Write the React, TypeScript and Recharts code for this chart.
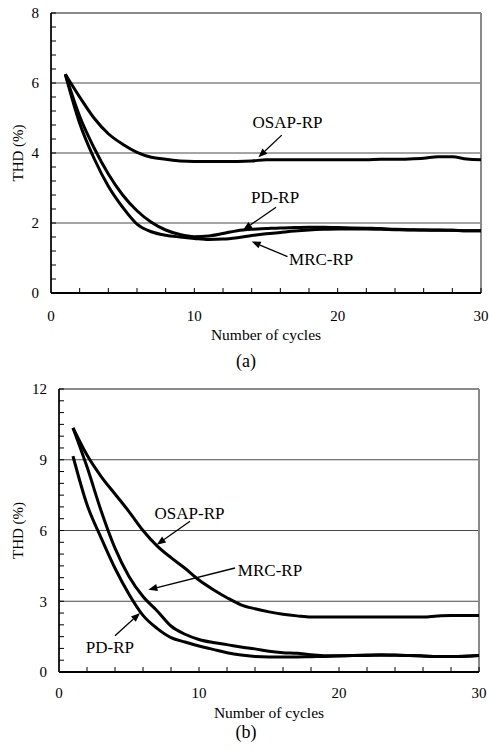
import React from 'react';
import { LineChart, Line, XAxis, YAxis, ReferenceLine, ReferenceDot } from 'recharts';

// Cycle index shared by every series
const cycles = [1, 2, 3, 4, 5, 6, 7, 8, 9, 10, 11, 12, 13, 14, 15, 16, 17, 18, 19, 20, 21, 22, 23, 24, 25, 26, 27, 28, 29, 30];

// (a) THD (%) per cycle
const osapA = [6.25, 5.6, 5.0, 4.55, 4.25, 4.02, 3.88, 3.82, 3.77, 3.76, 3.76, 3.76, 3.76, 3.77, 3.81, 3.81, 3.81, 3.81, 3.81, 3.81, 3.81, 3.81, 3.82, 3.82, 3.83, 3.85, 3.89, 3.89, 3.83, 3.81];
const pdA = [6.25, 5.05, 4.15, 3.4, 2.8, 2.35, 2.02, 1.8, 1.67, 1.61, 1.63, 1.7, 1.78, 1.82, 1.84, 1.86, 1.87, 1.88, 1.88, 1.87, 1.86, 1.85, 1.84, 1.82, 1.81, 1.8, 1.8, 1.79, 1.78, 1.78];
const mrcA = [6.25, 4.85, 3.85, 3.05, 2.45, 1.97, 1.75, 1.65, 1.6, 1.56, 1.53, 1.54, 1.58, 1.64, 1.69, 1.73, 1.77, 1.8, 1.82, 1.83, 1.83, 1.83, 1.82, 1.81, 1.8, 1.8, 1.79, 1.79, 1.78, 1.78];

// (b) THD (%) per cycle
const osapB = [10.35, 9.2, 8.3, 7.55, 6.8, 6.0, 5.35, 4.85, 4.4, 3.9, 3.5, 3.15, 2.85, 2.68, 2.55, 2.45, 2.38, 2.33, 2.33, 2.33, 2.33, 2.33, 2.33, 2.33, 2.33, 2.33, 2.37, 2.4, 2.4, 2.4];
const mrcB = [10.35, 8.7, 6.85, 5.25, 4.05, 3.2, 2.6, 1.95, 1.6, 1.38, 1.25, 1.16, 1.06, 0.98, 0.88, 0.82, 0.79, 0.73, 0.69, 0.69, 0.7, 0.72, 0.73, 0.72, 0.7, 0.68, 0.66, 0.66, 0.67, 0.7];
const pdB = [9.15, 7.1, 5.7, 4.4, 3.3, 2.4, 1.85, 1.46, 1.27, 1.1, 0.96, 0.82, 0.72, 0.66, 0.64, 0.64, 0.64, 0.65, 0.66, 0.68, 0.7, 0.7, 0.71, 0.71, 0.7, 0.68, 0.66, 0.66, 0.67, 0.7];

// Axis ticks (minor marks) and the values that carry a label
const xTicks = [0, 2, 4, 6, 8, 10, 12, 14, 16, 18, 20, 22, 24, 26, 28, 30];
const xTickLabels = [0, 10, 20, 30];
const yTicksA = [0, 0.4, 0.8, 1.2, 1.6, 2, 2.4, 2.8, 3.2, 3.6, 4, 4.4, 4.8, 5.2, 5.6, 6, 6.4, 6.8, 7.2, 7.6, 8];
const yTickLabelsA = [0, 2, 4, 6, 8];
const yTicksB = [0, 0.5, 1, 1.5, 2, 2.5, 3, 3.5, 4, 4.5, 5, 5.5, 6, 6.5, 7, 7.5, 8, 8.5, 9, 9.5, 10, 10.5, 11, 11.5, 12];
const yTickLabelsB = [0, 3, 6, 9, 12];
const gridA = [2, 4, 6];
const gridB = [3, 6, 9];

// Callouts: label anchor, arrow tail and arrow head in data units
const calloutsA = [
  { name: 'OSAP-RP', label: [16.5, 4.89], from: [16.1, 4.51], to: [14.47, 3.88] },
  { name: 'PD-RP', label: [15.63, 2.74], from: [15.7, 2.45], to: [13.4, 1.8] },
  { name: 'MRC-RP', label: [18.85, 0.97], from: [16.5, 1.04], to: [14.0, 1.47] },
];
const calloutsB = [
  { name: 'OSAP-RP', label: [9.32, 6.76], from: [9.36, 6.39], to: [6.98, 5.4] },
  { name: 'MRC-RP', label: [15.07, 4.34], from: [12.57, 4.41], to: [6.38, 3.49] },
  { name: 'PD-RP', label: [3.64, 1.08], from: [4.0, 1.54], to: [5.79, 2.5] },
];

const rowsA = cycles.map((c, i) => ({ cycle: c, osap: osapA[i], pd: pdA[i], mrc: mrcA[i] }));
const rowsB = cycles.map((c, i) => ({ cycle: c, osap: osapB[i], pd: pdB[i], mrc: mrcB[i] }));

const FONT = "'Liberation Serif', Tinos, 'DejaVu Serif', 'Noto Serif', serif";

const onList = (list: number[]) => (v: number) =>
  list.some((t) => Math.abs(t - v) < 1e-6) ? String(v) : '';

// Thin leader with a filled triangular head at (x2, y2)
const Arrow = (props: any) => {
  const { x1, y1, x2, y2 } = props;
  const ang = Math.atan2(y2 - y1, x2 - x1);
  const len = 9;
  const half = 3.6;
  const bx = x2 - len * Math.cos(ang);
  const by = y2 - len * Math.sin(ang);
  const px = -Math.sin(ang) * half;
  const py = Math.cos(ang) * half;
  return (
    <g>
      <line x1={x1} y1={y1} x2={bx} y2={by} stroke="#000" strokeWidth={1.3} />
      <polygon points={`${x2},${y2} ${bx + px},${by + py} ${bx - px},${by - py}`} fill="#000" />
    </g>
  );
};

type PanelProps = {
  rows: any[];
  yMax: number;
  yTicks: number[];
  yLabels: number[];
  grid: number[];
  callouts: { name: string; label: number[]; from: number[]; to: number[] }[];
  caption: string;
  height: number;
  yAxisWidth: number;
  rightMargin: number;
  xAxisHeight: number;
  xTickMargin: number;
  titleDy: number;
  captionDy: number;
};

function Panel(p: PanelProps) {
  const plotTop = 13;
  const plotBottom = p.height - p.xAxisHeight;
  const plotMid = (plotTop + plotBottom) / 2;
  const plotCenterX = (p.yAxisWidth + (489 - p.rightMargin)) / 2;
  return (
    <LineChart
      width={489}
      height={p.height}
      data={p.rows}
      margin={{ top: plotTop, right: p.rightMargin, left: 0, bottom: 0 }}
      style={{ fontFamily: FONT }}
    >
      {p.grid.map((g) => (
        <ReferenceLine key={g} y={g} stroke="#4a4a4a" strokeWidth={1} />
      ))}
      <ReferenceLine y={p.yMax} stroke="#8a8a8a" strokeWidth={2} />
      <ReferenceLine x={30} stroke="#8a8a8a" strokeWidth={2} />
      <XAxis
        dataKey="cycle"
        type="number"
        domain={[0, 30]}
        ticks={xTicks}
        interval={0}
        tickFormatter={onList(xTickLabels)}
        height={p.xAxisHeight}
        tickSize={-5}
        tickMargin={p.xTickMargin}
        axisLine={{ stroke: '#000', strokeWidth: 2 }}
        tickLine={{ stroke: '#000', strokeWidth: 1 }}
        tick={{ fill: '#000', fontSize: 15, style: { fontFamily: FONT } }}
        label={() => (
          <g>
            <text x={plotCenterX} y={plotBottom + p.titleDy} textAnchor="middle" fontSize={15.5} style={{ fontFamily: FONT }} fill="#000">
              Number of cycles
            </text>
            <text x={246} y={plotBottom + p.captionDy} textAnchor="middle" fontSize={18} style={{ fontFamily: FONT }} fill="#000">
              {p.caption}
            </text>
          </g>
        )}
      />
      <YAxis
        type="number"
        domain={[0, p.yMax]}
        ticks={p.yTicks}
        interval={0}
        tickFormatter={onList(p.yLabels)}
        width={p.yAxisWidth}
        tickSize={-5}
        tickMargin={17}
        axisLine={{ stroke: '#222', strokeWidth: 2 }}
        tickLine={{ stroke: '#000', strokeWidth: 1 }}
        tick={{ fill: '#000', fontSize: 15, style: { fontFamily: FONT } }}
        label={() => (
          <text
            x={17.5}
            y={plotMid}
            transform={`rotate(-90, 17.5, ${plotMid})`}
            textAnchor="middle"
            dominantBaseline="central"
            fontSize={15}
            style={{ fontFamily: FONT }}
            fill="#000"
          >
            THD (%)
          </text>
        )}
      />
      <Line type="monotone" dataKey="osap" stroke="#000" strokeWidth={3} dot={false} isAnimationActive={false} />
      <Line type="monotone" dataKey="pd" stroke="#000" strokeWidth={3} dot={false} isAnimationActive={false} />
      <Line type="monotone" dataKey="mrc" stroke="#000" strokeWidth={3} dot={false} isAnimationActive={false} />
      {p.callouts.map((c) => (
        <ReferenceLine
          key={'arrow-' + c.name}
          segment={[
            { x: c.from[0], y: c.from[1] },
            { x: c.to[0], y: c.to[1] },
          ]}
          shape={Arrow}
        />
      ))}
      {p.callouts.map((c) => (
        <ReferenceDot
          key={'label-' + c.name}
          x={c.label[0]}
          y={c.label[1]}
          r={0}
          fill="none"
          stroke="none"
          label={{ value: c.name, position: 'center', fill: '#000', fontSize: 17, style: { fontFamily: FONT } }}
        />
      ))}
    </LineChart>
  );
}

export default function App() {
  return (
    <div style={{ position: 'absolute', left: 0, top: 0, width: 489, height: 750, background: '#fff', fontFamily: FONT }}>
      <div style={{ position: 'absolute', left: 0, top: 0 }}>
        <Panel
          rows={rowsA}
          yMax={8}
          yTicks={yTicksA}
          yLabels={yTickLabelsA}
          grid={gridA}
          callouts={calloutsA}
          caption="(a)"
          height={375}
          yAxisWidth={51}
          rightMargin={8}
          xAxisHeight={82}
          xTickMargin={22}
          titleDy={47}
          captionDy={73.5}
        />
      </div>
      <div style={{ position: 'absolute', left: 0, top: 376 }}>
        <Panel
          rows={rowsB}
          yMax={12}
          yTicks={yTicksB}
          yLabels={yTickLabelsB}
          grid={gridB}
          callouts={calloutsB}
          caption="(b)"
          height={374}
          yAxisWidth={59}
          rightMargin={10}
          xAxisHeight={78}
          xTickMargin={20.5}
          titleDy={46}
          captionDy={65.5}
        />
      </div>
    </div>
  );
}
